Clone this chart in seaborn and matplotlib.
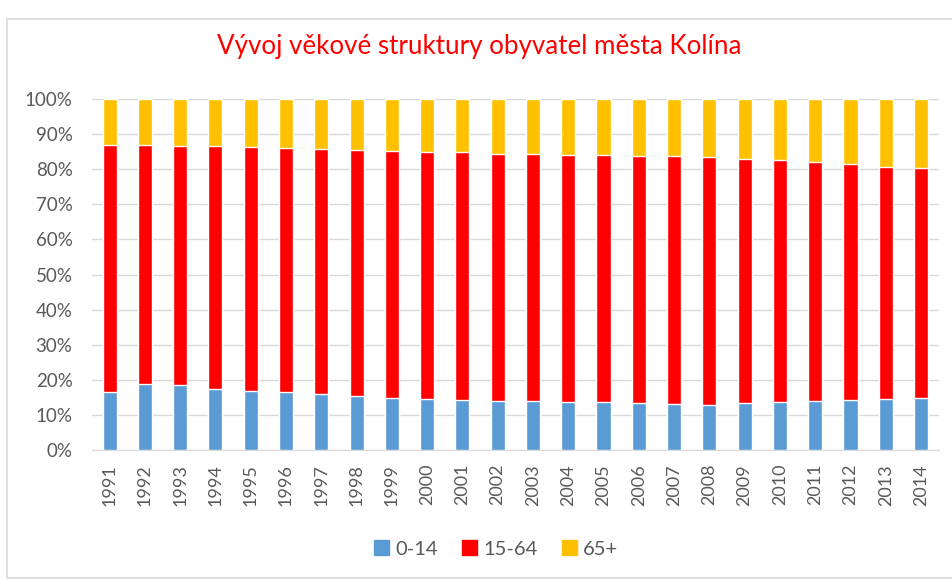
import matplotlib
matplotlib.use("Agg")
import matplotlib.pyplot as plt
import seaborn as sns
import pandas as pd
from matplotlib.patches import Rectangle, Patch
from matplotlib.ticker import PercentFormatter

# data (percent of population)
years = [str(y) for y in range(1991, 2015)]
age_0_14 = [16.6, 18.9, 18.4, 17.4, 16.9, 16.4, 15.9, 15.3, 14.9, 14.6, 14.3, 14.1,
            13.9, 13.6, 13.6, 13.4, 13.1, 12.9, 13.4, 13.7, 13.9, 14.2, 14.6, 14.9]
age_15_64 = [70.2, 68.1, 68.3, 69.1, 69.5, 69.7, 69.9, 70.2, 70.3, 70.3, 70.6, 70.3,
             70.4, 70.4, 70.4, 70.4, 70.7, 70.5, 69.5, 68.9, 68.1, 67.2, 66.1, 65.4]
age_65 = [13.2, 13.0, 13.3, 13.5, 13.6, 13.9, 14.2, 14.5, 14.8, 15.1, 15.1, 15.6,
          15.7, 16.0, 16.0, 16.2, 16.2, 16.6, 17.1, 17.4, 18.0, 18.6, 19.3, 19.7]

df = pd.DataFrame({'rok': years, '0-14': age_0_14, '15-64': age_15_64, '65+': age_65})
total = df[['0-14', '15-64', '65+']].sum(axis=1)
df['c1'] = df['0-14'] / total * 100
df['c2'] = (df['0-14'] + df['15-64']) / total * 100
df['c3'] = 100.0

blue = '#5B9BD5'
red = '#FF0000'
yellow = '#FFC000'
grey = '#595959'

sns.set_style('white')
plt.rcParams['font.family'] = ['Lato', 'DejaVu Sans']

fig = plt.figure(figsize=(9.52, 5.79), dpi=100)
ax = fig.add_axes([0.0966, 0.2228, 0.8894, 0.6062])

# stacked 100% bars: draw cumulative heights from the top down
sns.barplot(data=df, x='rok', y='c3', color=yellow, width=0.4, saturation=1, ax=ax, zorder=2)
sns.barplot(data=df, x='rok', y='c2', color=red, width=0.4, saturation=1, ax=ax, zorder=3)
sns.barplot(data=df, x='rok', y='c1', color=blue, width=0.4, saturation=1, ax=ax, zorder=4)

ax.set_ylim(0, 100)
ax.set_xlim(-0.5, len(years) - 0.5)
ax.set_yticks(range(0, 101, 10))
ax.yaxis.set_major_formatter(PercentFormatter(decimals=0))
ax.grid(axis='y', color='#d9d9d9', linewidth=1, zorder=0)
ax.set_axisbelow(True)
for s in ['top', 'right', 'left']:
    ax.spines[s].set_visible(False)
ax.spines['bottom'].set_color('#d9d9d9')
ax.tick_params(axis='y', length=0, labelsize=13.5, labelcolor=grey, pad=14)
ax.tick_params(axis='x', length=0, labelsize=13, labelcolor=grey, labelrotation=90, pad=10)
ax.set_xlabel('')
ax.set_ylabel('')

fig.text(0.503, 0.919, 'Vývoj věkové struktury obyvatel města Kolína',
         ha='center', va='center', color=red, fontsize=18.7)

handles = [Patch(color=blue, label='0-14'), Patch(color=red, label='15-64'),
           Patch(color=yellow, label='65+')]
leg = fig.legend(handles=handles, loc='center', bbox_to_anchor=(0.521, 0.052), ncol=3,
                 frameon=False, fontsize=14.5, handlelength=0.75, handleheight=0.75,
                 handletextpad=0.3, columnspacing=1.2)
for t in leg.get_texts():
    t.set_color(grey)

fig.patches.append(Rectangle((0.0074, 0.002), 1.0, 0.965, transform=fig.transFigure,
                             fill=False, edgecolor='#d9d9d9', linewidth=1.2))

fig.savefig('out.png', dpi=100)
